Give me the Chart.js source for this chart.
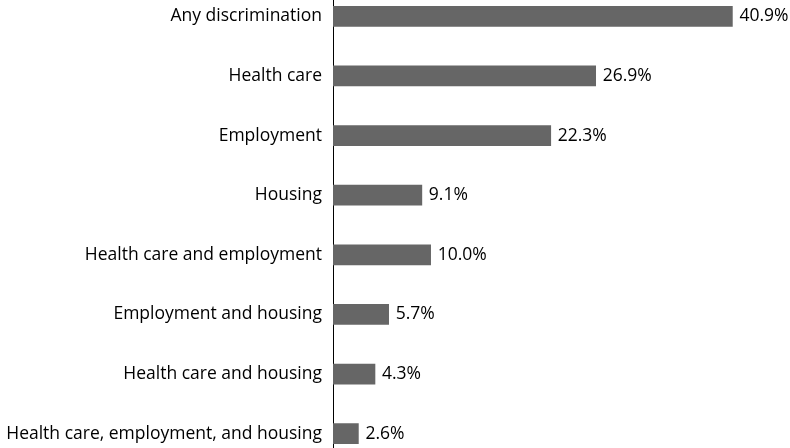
<!DOCTYPE html>
<html>
<head>
<meta charset="utf-8">
<script src="https://cdn.jsdelivr.net/npm/chart.js@4/dist/chart.umd.min.js"></script>
<style>
  html, body { margin: 0; padding: 0; background: #fff; overflow: hidden; }
  #wrap { position: absolute; left: 0; top: -35px; width: 790px; height: 520px; }
</style>
</head>
<body>
<div id="wrap"><canvas id="chart"></canvas></div>
<script>
const categories = [
    'Any discrimination',
    'Health care',
    'Employment',
    'Housing',
    'Health care and employment',
    'Employment and housing',
    'Health care and housing',
    'Health care, employment, and housing'
];
const percentValues = [40.9, 26.9, 22.3, 9.1, 10.0, 5.7, 4.3, 2.6];

// draws the "xx.x%" text at the end of each bar
const valueLabels = {
    id: 'valueLabels',
    afterDatasetsDraw(chart) {
        const ctx = chart.ctx;
        const meta = chart.getDatasetMeta(0);
        ctx.save();
        ctx.font = '17.5px "Open Sans", Lato, sans-serif';
        ctx.fillStyle = '#000';
        ctx.textAlign = 'left';
        ctx.textBaseline = 'middle';
        meta.data.forEach((bar, i) => {
            ctx.fillText(percentValues[i].toFixed(1) + '%', bar.x + 7, bar.y);
        });
        ctx.restore();
    }
};

const ctx = document.getElementById('chart').getContext('2d');
const chart = new Chart(ctx, {
    type: 'bar',
    data: {
        labels: categories,
        datasets: [{
            data: percentValues,
            backgroundColor: '#666666',
            borderWidth: 0,
            barThickness: 20
        }]
    },
    options: {
        indexAxis: 'y',
        responsive: true,
        maintainAspectRatio: false,
        animation: false,
        layout: { padding: 0 },
        plugins: {
            legend: { display: false },
            tooltip: { enabled: false }
        },
        scales: {
            x: {
                display: false,
                min: 0,
                max: 46.8
            },
            y: {
                afterFit: scale => { scale.width = 333; },
                grid: { display: false, drawTicks: false },
                border: { display: true, color: '#000', width: 1 },
                ticks: {
                    color: '#000',
                    padding: 11,
                    font: { family: '"Open Sans", Lato, sans-serif', size: 17.5 }
                }
            }
        }
    },
    plugins: [valueLabels]
});
</script>
</body>
</html>
